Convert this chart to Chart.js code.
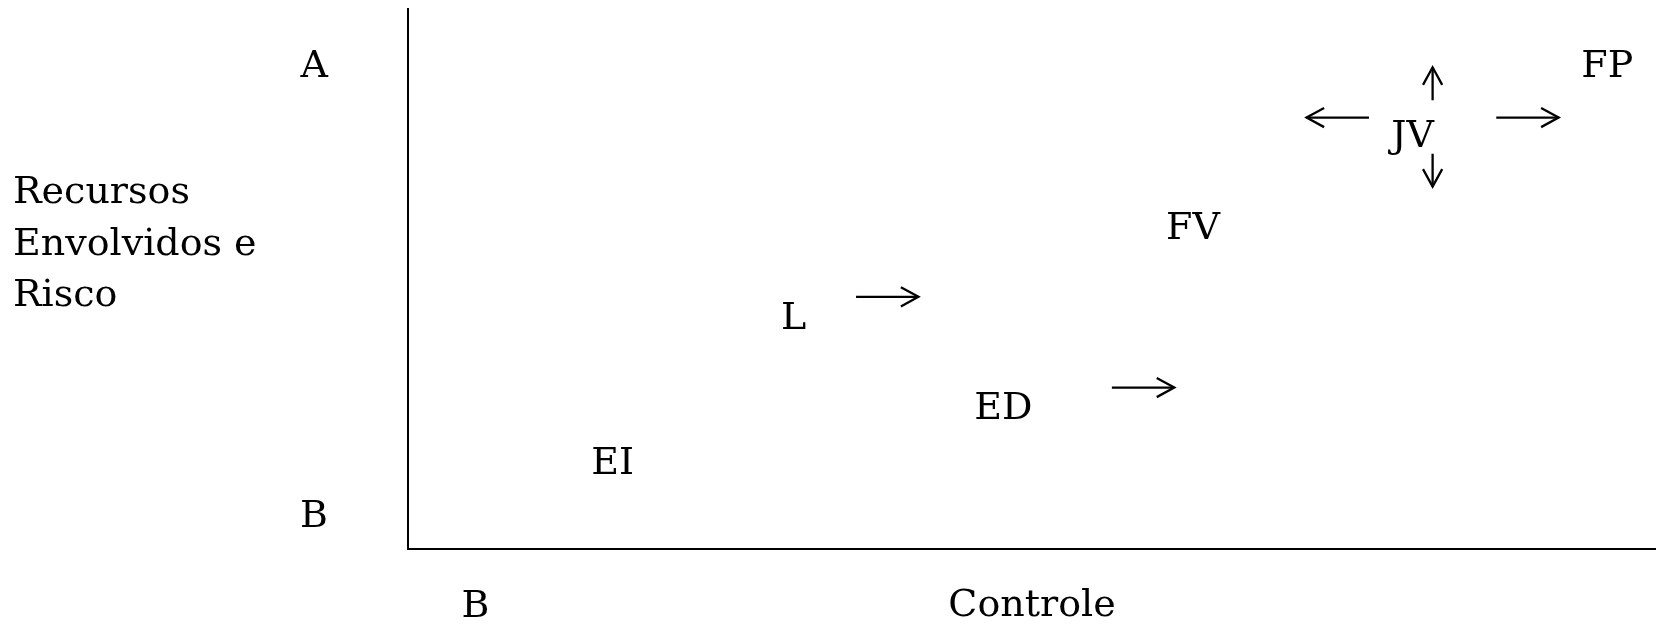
<!DOCTYPE html>
<html>
<head>
<meta charset="utf-8">
<script src="https://cdn.jsdelivr.net/npm/chart.js@4/dist/chart.umd.min.js"></script>
<style>
  body { margin: 0; background: #fff; }
  #wrap { width: 1656px; height: 625px; position: relative; }
</style>
</head>
<body>
<div id="wrap"><canvas id="matrixchart"></canvas></div>
<script>
// entry modes placed on control (x) vs resources/risk (y), 0-100 scale
var modeNames = ['EI', 'L', 'ED', 'FV', 'JV', 'FP'];
var modeX = [16.4, 30.9, 47.7, 62.9, 80.5, 96.1];
var modeY = [16.4, 43.3, 26.6, 60.0, 77.0, 90.0];

// arrows (start -> end)
var arrowStartX = [35.9, 56.4, 77.0, 87.2, 82.1, 82.1];
var arrowStartY = [46.7, 29.9, 79.9, 79.9, 83.1, 73.2];
var arrowEndX = [40.9, 61.4, 72.0, 92.2, 82.1, 82.1];
var arrowEndY = [46.7, 29.9, 79.9, 79.9, 89.2, 67.1];

var xTickValues = [5.4];
var xTickLabels = ['B'];
var yTickValues = [5.9, 89.2];
var yTickLabels = ['B', 'A'];

var xTitle = 'Controle';
var yTitle = ['Recursos', 'Envolvidos e', 'Risco'];

var serif = 'DejaVu Serif';
var fontSize = 38;

var datasets = [{
    label: 'modos',
    data: modeX.map(function (x, i) { return {x: x, y: modeY[i]}; }),
    pointRadius: 0,
    pointHoverRadius: 0
}];
for (var i = 0; i < arrowStartX.length; i++) {
    datasets.push({
        label: 'seta' + i,
        type: 'line',
        showLine: true,
        data: [{x: arrowStartX[i], y: arrowStartY[i]}, {x: arrowEndX[i], y: arrowEndY[i]}],
        borderColor: 'black',
        borderWidth: 2.3,
        pointRadius: 0,
        fill: false,
        isArrow: true
    });
}

var labelsAndArrows = {
    id: 'labelsAndArrows',
    afterDatasetsDraw: function (chart) {
        var ctx = chart.ctx;
        ctx.save();
        ctx.fillStyle = 'black';
        ctx.strokeStyle = 'black';
        ctx.lineWidth = 2.3;
        ctx.font = fontSize + 'px "' + serif + '"';
        ctx.textAlign = 'center';
        ctx.textBaseline = 'alphabetic';
        var cap = fontSize * 0.73;
        chart.getDatasetMeta(0).data.forEach(function (pt, i) {
            ctx.fillText(modeNames[i], pt.x, pt.y + cap / 2);
        });
        chart.data.datasets.forEach(function (ds, di) {
            if (!ds.isArrow) return;
            var pts = chart.getDatasetMeta(di).data;
            var a = pts[0], b = pts[1];
            var ang = Math.atan2(b.y - a.y, b.x - a.x);
            var len = 20, spread = 0.5;
            ctx.beginPath();
            ctx.moveTo(b.x - len * Math.cos(ang - spread), b.y - len * Math.sin(ang - spread));
            ctx.lineTo(b.x, b.y);
            ctx.lineTo(b.x - len * Math.cos(ang + spread), b.y - len * Math.sin(ang + spread));
            ctx.stroke();
        });
        // y title, horizontal, left of the axis
        ctx.textAlign = 'left';
        var yTop = chart.chartArea.top + 194;
        yTitle.forEach(function (line, i) {
            ctx.fillText(line, 13, yTop + i * 51.5);
        });
        ctx.restore();
    }
};

var chart1 = document.getElementById('matrixchart');
var myChart1 = new Chart(chart1, {
    type: 'scatter',
    data: { datasets: datasets },
    options: {
        responsive: true,
        maintainAspectRatio: false,
        animation: false,
        layout: { padding: { top: 9, right: 0, left: 0, bottom: 0 } },
        plugins: {
            legend: { display: false },
            tooltip: { enabled: false }
        },
        scales: {
            x: {
                type: 'linear',
                min: 0,
                max: 100,
                grid: { display: false, drawTicks: false },
                border: { display: true, color: 'black', width: 2 },
                afterBuildTicks: function (axis) {
                    axis.ticks = xTickValues.map(function (v) { return {value: v}; });
                },
                afterFit: function (axis) {
                    axis.height = 76;
                    axis.paddingLeft = 0;
                    axis.paddingRight = 0;
                },
                ticks: {
                    autoSkip: false,
                    maxRotation: 0,
                    padding: 39,
                    color: 'black',
                    font: { family: serif, size: fontSize, lineHeight: 1 },
                    callback: function (v, i) { return xTickLabels[i]; }
                },
                title: {
                    display: true,
                    text: xTitle,
                    color: 'black',
                    padding: { top: 0, bottom: 0 },
                    font: { family: serif, size: fontSize, lineHeight: 1 }
                }
            },
            y: {
                type: 'linear',
                min: 0,
                max: 100,
                grid: { display: false, drawTicks: false },
                border: { display: true, color: 'black', width: 2 },
                afterBuildTicks: function (axis) {
                    axis.ticks = yTickValues.map(function (v) { return {value: v}; });
                },
                afterFit: function (axis) {
                    axis.width = 408;
                    axis.paddingTop = 0;
                    axis.paddingBottom = 0;
                },
                ticks: {
                    autoSkip: false,
                    padding: 80,
                    color: 'black',
                    font: { family: serif, size: fontSize, lineHeight: 1 },
                    callback: function (v, i) { return yTickLabels[i]; }
                }
            }
        }
    },
    plugins: [labelsAndArrows]
});
</script>
</body>
</html>
